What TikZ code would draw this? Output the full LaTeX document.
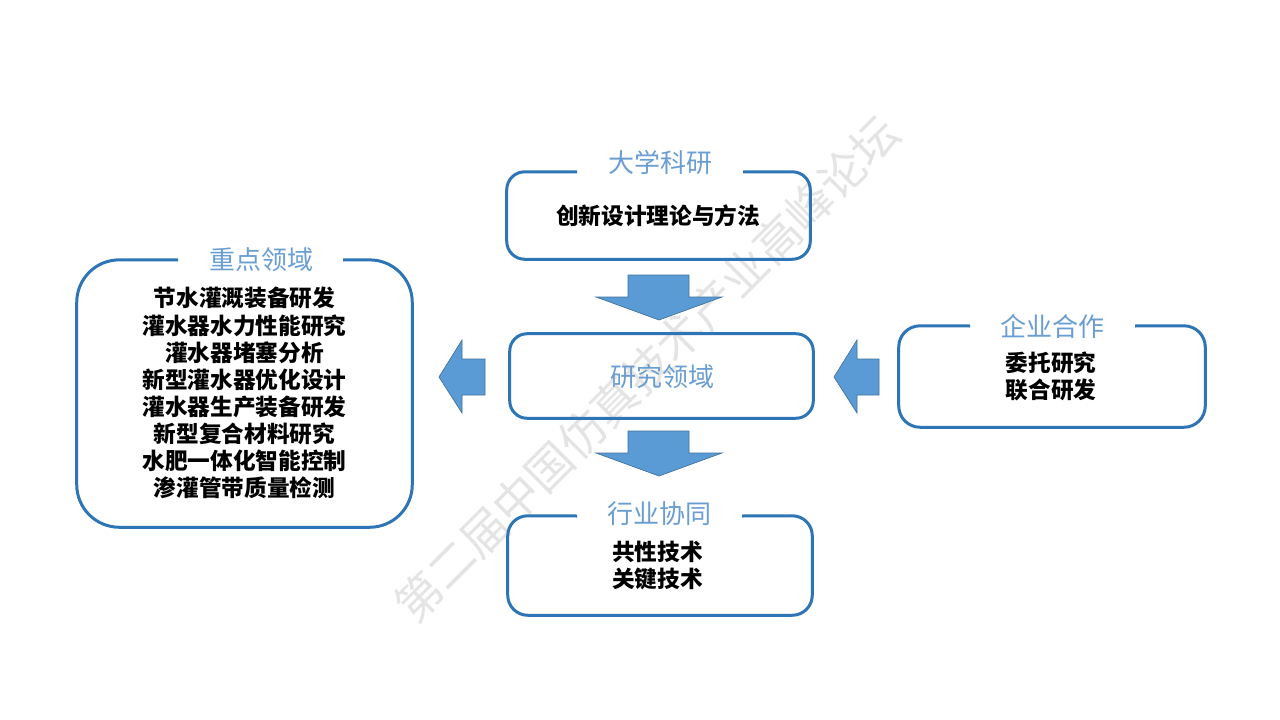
\documentclass[tikz,border=0pt]{standalone}
\usepackage{fontspec}
\setmainfont{Noto Sans CJK SC}
\usetikzlibrary{fit,calc}
\definecolor{bord}{RGB}{46,117,182}
\definecolor{ttl}{RGB}{106,158,210}
\definecolor{arrfill}{RGB}{91,155,213}
\definecolor{arredge}{RGB}{65,113,156}
\definecolor{wmgray}{RGB}{228,228,228}
\tikzset{
  boxline/.style={draw=bord, line width=2.25pt},
  frame/.style={inner sep=0pt},
  titletext/.style={text=ttl, font=\fontsize{19.5}{22}\selectfont, inner sep=0pt},
  bodytext/.style={text=black, font=\fontsize{17}{20.3}\selectfont\bfseries, align=center, inner sep=0pt},
  blockarrow/.style={fill=arrfill, draw=arredge, line width=0.5pt, line join=miter},
  watermark/.style={text=wmgray, font=\fontsize{34.5}{40}\selectfont, rotate=45, inner sep=0pt}
}
\begin{document}
\begin{tikzpicture}[x=0.75pt,y=-0.75pt]
\useasboundingbox[fill=white] (0,0) rectangle (1280,720);

% ---- watermark (behind everything) ----
\node[watermark] (wm) at (647,369) {第二届中国仿真技术产业高峰论坛};

% ---- frames (invisible fit nodes) ----
\node[frame, fit={(507,172)(810,259)}] (uni) {};
\node[frame, fit={(510,334)(813,418)}] (mid) {};
\node[frame, fit={(77,260)(412,527)}] (key) {};
\node[frame, fit={(899,326)(1205,427)}] (ent) {};
\node[frame, fit={(508,516)(812,615)}] (ind) {};

% ---- open-top boxes ----
\draw[boxline, rounded corners=13.5pt] (743,172) -- (uni.north east) -- (uni.south east) -- (uni.south west) -- (uni.north west) -- (577,172);
\draw[boxline, rounded corners=13pt] (mid.north west) rectangle (mid.south east);
\draw[boxline, rounded corners=32pt] (343,260) -- (key.north east) -- (key.south east) -- (key.south west) -- (key.north west) -- (178,260);
\draw[boxline, rounded corners=16pt] (1135,326) -- (ent.north east) -- (ent.south east) -- (ent.south west) -- (ent.north west) -- (970,326);
\draw[boxline, rounded corners=15pt] (742,516) -- (ind.north east) -- (ind.south east) -- (ind.south west) -- (ind.north west) -- (577,516);

% ---- titles ----
\node[titletext] (uniT) at (660,163) {大学科研};
\node[titletext] (keyT) at (261,260) {重点领域};
\node[titletext] (entT) at (1052,326) {企业合作};
\node[titletext] (indT) at (659,514) {行业协同};
\node[titletext] (midT) at (662,377) {研究领域};

% ---- body texts ----
\node[bodytext] (uniB) at (658,216) {创新设计理论与方法};
\node[bodytext] (keyB) at (244.5,393) {节水灌溉装备研发\\灌水器水力性能研究\\灌水器堵塞分析\\新型灌水器优化设计\\灌水器生产装备研发\\新型复合材料研究\\水肥一体化智能控制\\渗灌管带质量检测};
\node[bodytext] (entB) at (1051,376.5) {委托研究\\联合研发};
\node[bodytext] (indB) at (657.5,565.5) {共性技术\\关键技术};

% ---- block arrows ----
\draw[blockarrow] (628,275) -- (689,275) -- (689,297) -- (722,297) -- (659,320) -- (596,297) -- (628,297) -- cycle;
\draw[blockarrow] (628,431) -- (689,431) -- (689,453) -- (722,453) -- (659,476) -- (596,453) -- (628,453) -- cycle;
\draw[blockarrow] (439,377) -- (462,340) -- (462,359) -- (485,359) -- (485,395) -- (462,395) -- (462,413) -- cycle;
\draw[blockarrow] (834,377) -- (857,340) -- (857,359) -- (879,359) -- (879,395) -- (857,395) -- (857,413) -- cycle;
\end{tikzpicture}
\end{document}
